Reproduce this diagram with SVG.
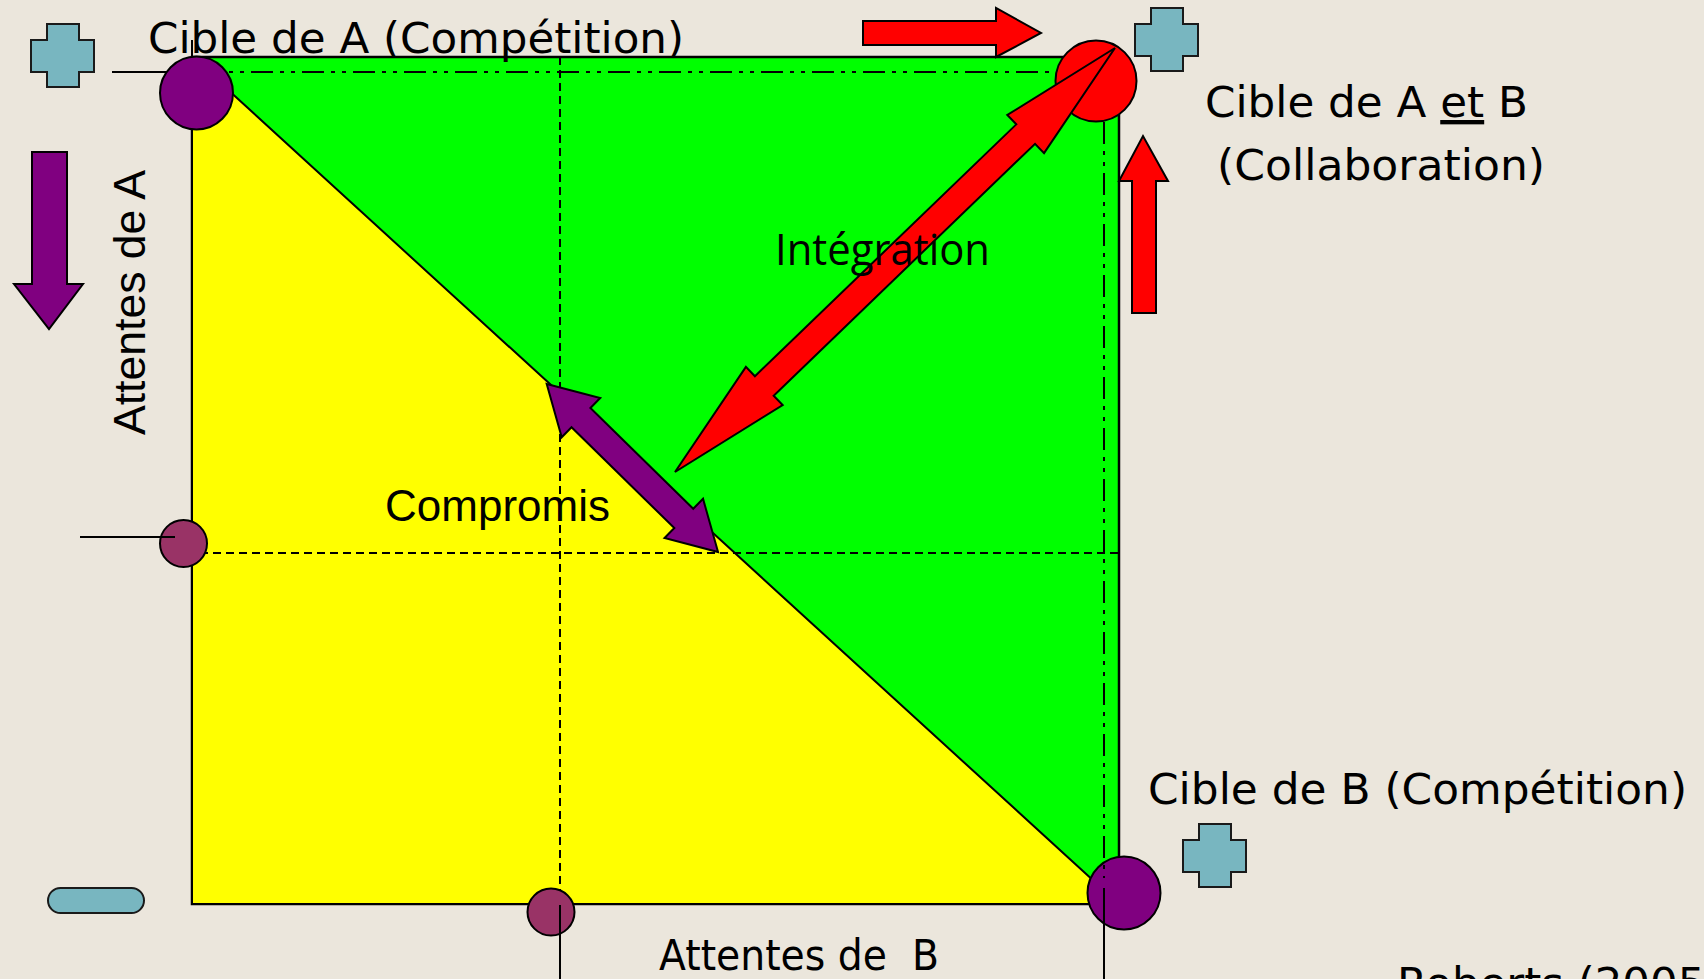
<svg xmlns="http://www.w3.org/2000/svg" width="1704" height="979" viewBox="0 0 1704 979">
<style>
.bg{fill:#EBE6DC}
.ln{stroke:#000;stroke-width:2;fill:none}
.dash{stroke:#000;stroke-width:2;fill:none;stroke-dasharray:8 5}
.dd{stroke:#000;stroke-width:2;fill:none;stroke-dasharray:22 7 4 7 4 7}
.ol{stroke:#000;stroke-width:2}
.teal{fill:#78B6C0;stroke:#1a1a1a;stroke-width:2}
.purple{fill:#800080}
.maroon{fill:#993366}
.red{fill:#FF0000}
.tf{font-family:"DejaVu Sans","Liberation Sans",sans-serif;font-size:43.5px;fill:#000}
.ta{font-family:"Liberation Sans",Arial,sans-serif;font-size:44px;fill:#000}
.tc{font-family:"Open Sans","Noto Sans",sans-serif;font-size:44px;fill:#000}
</style>
<defs>
<path id="plus" d="M16,0 H48 V16 H63 V48 H48 V63 H16 V48 H0 V16 H16 Z"/>
</defs>
<rect class="bg" x="0" y="0" width="1704" height="979"/>

<g id="chart">
<rect x="192" y="57" width="927" height="847" fill="#00FF00" stroke="#000" stroke-width="2.5"/>
<polygon points="192,57 192,904 1119,904" fill="#FFFF00" stroke="#000" stroke-width="2"/>
</g>

<g id="connectors">
<line class="dash" x1="560" y1="57" x2="560" y2="900"/>
<line class="dash" x1="200" y1="553" x2="1119" y2="553"/>
<line class="dd" x1="200" y1="72" x2="1070" y2="72"/>
<line class="ln" x1="112" y1="72" x2="175" y2="72"/>
<line class="ln" x1="192" y1="40" x2="192" y2="60"/>
</g>

<g id="node-cible-a">
<circle class="purple ol" cx="196.5" cy="93" r="36.5"/>
</g>
<g id="node-cible-ab">
<circle class="red ol" cx="1096" cy="81" r="40.5"/>
</g>
<g id="node-cible-b">
<circle class="purple ol" cx="1124" cy="893" r="36.5"/>
</g>
<g id="node-point-a">
<circle class="maroon ol" cx="183.5" cy="543.5" r="23.5"/>
<line class="ln" x1="80" y1="537" x2="175" y2="537" stroke-width="1.5"/>
</g>
<g id="node-point-b">
<circle class="maroon ol" cx="551" cy="912" r="23.5"/>
<line class="ln" x1="560" y1="905" x2="560" y2="979" stroke-width="1.5"/>
</g>

<g id="connectors-right">
<line class="dd" x1="1104" y1="122" x2="1104" y2="878"/>
<line class="ln" x1="1104" y1="888" x2="1104" y2="979" stroke-width="1.5"/>
</g>

<g id="arrow-compromis">
<polygon class="purple ol" transform="translate(546.7,384) rotate(44.44)" points="0,0 48,-27.5 48,-13.5 192,-13.5 192,-27.5 240,0 192,27.5 192,13.5 48,13.5 48,27.5"/>
</g>
<g id="arrow-integration">
<polygon class="red ol" transform="translate(675,472) rotate(-43.94)" points="0,0 124,-26.5 124,-13.5 487,-13.5 487,-26.5 611,0 487,26.5 487,13.5 124,13.5 124,26.5"/>
</g>

<g id="arrow-right">
<polygon class="red ol" points="863,21 996,21 996,8 1041,33 996,57 996,45 863,45"/>
</g>
<g id="arrow-up">
<polygon class="red ol" points="1132,313 1132,181 1119,181 1143,136 1168,181 1156,181 1156,313"/>
</g>
<g id="arrow-down">
<polygon class="purple ol" points="32,152 67,152 67,284 83,284 49,329 14,284 32,284"/>
</g>

<g id="plus-a"><use href="#plus" class="teal" x="31" y="24"/></g>
<g id="plus-ab"><use href="#plus" class="teal" x="1135" y="8"/></g>
<g id="plus-b"><use href="#plus" class="teal" x="1183" y="824"/></g>
<g id="minus"><rect class="teal" x="48" y="888" width="96" height="25" rx="12.5"/></g>

<g id="labels">
<text class="tf" x="148" y="53" textLength="536" lengthAdjust="spacingAndGlyphs">Cible de A (Compétition)</text>
<text class="tf" x="1205" y="117" textLength="323" lengthAdjust="spacingAndGlyphs">Cible de A <tspan text-decoration="underline">et</tspan> B</text>
<text class="tf" x="1217" y="180" textLength="328" lengthAdjust="spacingAndGlyphs">(Collaboration)</text>
<text class="tc" x="775" y="265" textLength="215" lengthAdjust="spacingAndGlyphs">Intégration</text>
<text class="ta" x="385" y="521" textLength="225" lengthAdjust="spacingAndGlyphs">Compromis</text>
<text class="ta" transform="translate(145,435) rotate(-90)" x="0" y="0" textLength="265" lengthAdjust="spacingAndGlyphs">Attentes de A</text>
<text class="tf" x="659" y="970" xml:space="preserve" textLength="280" lengthAdjust="spacingAndGlyphs">Attentes de  B</text>
<text class="tf" x="1148" y="804" textLength="539" lengthAdjust="spacingAndGlyphs">Cible de B (Compétition)</text>
<text class="tf" x="1397" y="998">Roberts (2005)</text>
</g>
</svg>
